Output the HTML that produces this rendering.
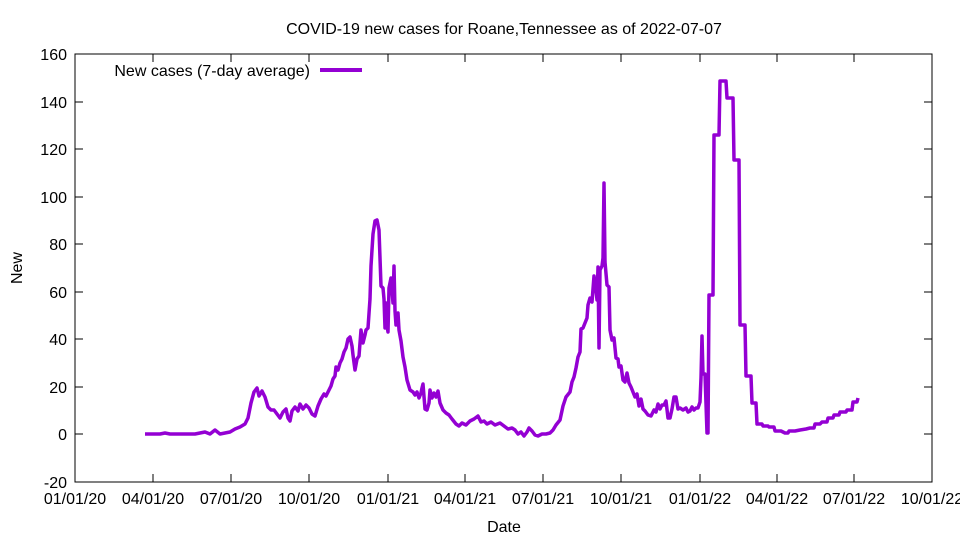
<!DOCTYPE html>
<html><head><meta charset="utf-8"><style>body{margin:0;background:#fff}svg{display:block}text{font-family:"Liberation Sans",sans-serif;font-size:16px;fill:#000}</style></head><body>
<svg width="960" height="540" viewBox="0 0 960 540">
<rect x="75" y="54" width="857" height="428" fill="none" stroke="#000" stroke-width="1"/>
<g stroke="#000" stroke-width="1">
<path d="M75 434h8M932 434h-8M75 387h8M932 387h-8M75 339h8M932 339h-8M75 292h8M932 292h-8M75 244h8M932 244h-8M75 197h8M932 197h-8M75 149h8M932 149h-8M75 102h8M932 102h-8M75 482h8M932 482h-8M75 54h8M932 54h-8"/>
<path d="M153 482v-8M153 54v8M231 482v-8M231 54v8M309 482v-8M309 54v8M388 482v-8M388 54v8M465 482v-8M465 54v8M543 482v-8M543 54v8M621 482v-8M621 54v8M700 482v-8M700 54v8M777 482v-8M777 54v8M854 482v-8M854 54v8"/>
</g>
<g text-anchor="end">
<text x="67" y="60">160</text><text x="67" y="108">140</text><text x="67" y="155">120</text><text x="67" y="203">100</text><text x="67" y="250">80</text><text x="67" y="298">60</text><text x="67" y="345">40</text><text x="67" y="393">20</text><text x="67" y="440">0</text><text x="67" y="488">-20</text>
</g>
<g text-anchor="middle">
<text x="75" y="504">01/01/20</text><text x="153" y="504">04/01/20</text><text x="231" y="504">07/01/20</text><text x="309" y="504">10/01/20</text><text x="388" y="504">01/01/21</text><text x="465" y="504">04/01/21</text><text x="543" y="504">07/01/21</text><text x="621" y="504">10/01/21</text><text x="700" y="504">01/01/22</text><text x="777" y="504">04/01/22</text><text x="854" y="504">07/01/22</text><text x="932" y="504">10/01/22</text>
<text x="504" y="532">Date</text>
<text x="504" y="34">COVID-19 new cases for Roane,Tennessee as of 2022-07-07</text>
</g>
<text x="22" y="268" text-anchor="middle" transform="rotate(-90 22 268)">New</text>
<text x="310" y="76" text-anchor="end">New cases (7-day average)</text>
<line x1="320" y1="70" x2="362" y2="70" stroke="#9400d3" stroke-width="4"/>
<polyline fill="none" stroke="#9400d3" stroke-width="3.5" stroke-linejoin="round" points="145,434 160,434 165,433 170,434 180,434 195,434 200,433 205,432 210,434 215,430 220,434 225,433 230,432 235,429 240,427 245,424 248,418 251,403 254,392 257,388 259,396 262,391 265,397 268,407 271,410 274,410 277,414 280,418 283,412 286,409 288,418 290,421 292,411 295,407 298,411 300,404 303,409 306,405 309,408 312,414 315,416 318,406 321,399 324,394 326,396 328,392 331,386 333,379 335,376 336,367 338,370 340,363 342,359 344,352 346,348 348,339 350,337 352,346 353,355 355,370 357,359 359,356 361,330 363,343 365,335 366,330 368,328 370,299 371,266 373,234 375,221 377,220 379,230 381,286 383,288 384,299 385,328 386,303 387,326 388,332 389,288 391,278 393,303 394,266 395,311 396,325 398,313 399,330 401,341 403,357 405,367 407,380 410,390 413,392 415,395 417,392 419,398 421,393 422,388 423,384 425,409 427,410 429,403 430,390 432,398 434,393 436,397 438,391 440,403 443,410 446,413 449,415 452,419 456,424 459,426 462,423 466,425 470,421 474,419 478,416 481,422 484,421 487,424 491,422 495,425 500,423 504,426 508,429 512,428 515,430 518,434 521,432 524,436 527,432 529,428 532,431 535,435 538,436 542,434 546,434 550,433 553,430 556,425 560,420 563,406 566,397 570,392 572,382 574,377 576,368 578,357 580,352 581,329 583,328 585,323 587,318 588,305 590,298 592,302 594,276 596,290 597,300 598,267 599,348 600,270 602,266 603,258 604,183 605,262 607,285 609,287 610,330 612,340 614,338 616,358 618,359 619,367 621,366 623,380 625,382 627,373 629,383 631,387 633,392 635,397 637,394 639,406 641,399 643,409 645,411 648,415 651,416 654,410 656,412 658,404 660,409 662,405 664,405 666,401 668,418 670,418 672,409 674,397 676,397 678,409 680,408 683,410 686,408 688,412 690,411 692,407 694,410 696,408 698,408 700,402 701,378 702,336 703,374 705,374 707,433 708,433 709,295 713,295 714,135 719,135 720,81 726,81 727,98 733,98 734,160 739,160 740,325 745,325 746,376 751,376 752,403 756,403 757,424 762,424 763,426 768,426 769,427 774,427 775,431 780,431 781,431 785,433 788,433 789,431 795,431 800,430 806,429 810,428 814,428 815,424 820,424 822,422 827,422 828,418 833,418 834,415 839,415 840,412 846,412 847,410 852,410 853,402 857,402 858,398"/>
</svg>
</body></html>
